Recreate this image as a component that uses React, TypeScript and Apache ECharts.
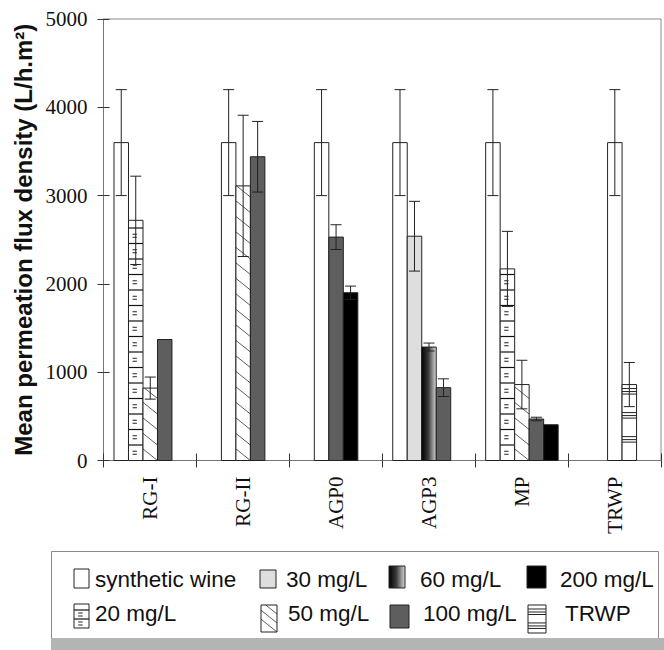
import React, { useEffect, useRef } from 'react';
import * as echarts from 'echarts';

const categories = ['RG-I', 'RG-II', 'AGP0', 'AGP3', 'MP', 'TRWP'];
const seriesNames = ['synthetic wine', '20 mg/L', '30 mg/L', '50 mg/L', '60 mg/L', '100 mg/L', '200 mg/L', 'TRWP'];
const syntheticWine = [3600, 3600, 3600, 3600, 3600, 3600];
const syntheticWineErr = [600, 600, 600, 600, 600, 600];
const mg20 = [2720, null, null, null, 2170, null];
const mg20Err = [500, null, null, null, 425, null];
const mg30 = [null, null, null, 2540, null, null];
const mg30Err = [null, null, null, 395, null, null];
const mg50 = [820, 3110, null, null, 860, null];
const mg50Err = [125, 800, null, null, 275, null];
const mg60 = [null, null, null, 1285, null, null];
const mg60Err = [null, null, null, 45, null, null];
const mg100 = [1370, 3440, 2530, 825, 470, null];
const mg100Err = [0, 400, 140, 100, 20, null];
const mg200 = [null, null, 1900, null, 405, null];
const mg200Err = [null, null, 75, null, 0, null];
const trwp = [null, null, null, null, null, 860];
const trwpErr = [null, null, null, null, null, 250];
const yMin = 0;
const yMax = 5000;
const yStep = 1000;

type Kind = 'white' | 'hbox' | 'dots' | 'hatch' | 'grad' | 'checker' | 'black' | 'trwp';

const allSeries: { name: string; values: (number | null)[]; errs: (number | null)[]; kind: Kind }[] = [
  { name: seriesNames[0], values: syntheticWine, errs: syntheticWineErr, kind: 'white' },
  { name: seriesNames[1], values: mg20, errs: mg20Err, kind: 'hbox' },
  { name: seriesNames[2], values: mg30, errs: mg30Err, kind: 'dots' },
  { name: seriesNames[3], values: mg50, errs: mg50Err, kind: 'hatch' },
  { name: seriesNames[4], values: mg60, errs: mg60Err, kind: 'grad' },
  { name: seriesNames[5], values: mg100, errs: mg100Err, kind: 'checker' },
  { name: seriesNames[6], values: mg200, errs: mg200Err, kind: 'black' },
  { name: seriesNames[7], values: trwp, errs: trwpErr, kind: 'trwp' },
];

function fillFor(kind: Kind): any {
  switch (kind) {
    case 'dots':
      return '#dedede';
    case 'grad':
      return {
        type: 'linear', x: 0, y: 0, x2: 1, y2: 0,
        colorStops: [
          { offset: 0, color: '#000000' },
          { offset: 0.45, color: '#3a3a3a' },
          { offset: 1, color: '#d8d8d8' },
        ],
      };
    case 'checker':
      return '#5e5e5e';
    case 'black':
      return '#000000';
    default:
      return '#ffffff';
  }
}

const ln = (x1: number, y1: number, x2: number, y2: number, stroke = '#111', lw = 1) => ({
  type: 'line',
  shape: { x1, y1, x2, y2 },
  style: { stroke, lineWidth: lw },
  silent: true,
});

function shapeEls(kind: Kind, x: number, top: number, w: number, bottom: number, step: number): any[] {
  const h = bottom - top;
  const els: any[] = [];
  els.push({ type: 'rect', shape: { x, y: top, width: w, height: h }, style: { fill: fillFor(kind), stroke: 'none' }, silent: true });
  if (kind === 'hbox') {
    for (let yy = bottom - step; yy > top + 2; yy -= step) els.push(ln(x, yy, x + w, yy, '#111', 1.2));
    for (let yy = bottom - step / 2; yy > top + 3; yy -= step) {
      els.push(ln(x + w * 0.28, yy - 1.5, x + w * 0.58, yy - 1.5, '#222', 1));
      els.push(ln(x + w * 0.28, yy + 1.5, x + w * 0.58, yy + 1.5, '#222', 1));
    }
  } else if (kind === 'hatch') {
    const dy = 0.8 * w;
    for (let yy = bottom - dy; yy + dy > top; yy -= step) {
      const t0 = Math.max(0, (top - yy) / dy);
      const t1 = Math.min(1, (bottom - yy) / dy);
      if (t1 > t0) els.push(ln(x + w * t0, yy + dy * t0, x + w * t1, yy + dy * t1, '#333', 0.8));
    }
  } else if (kind === 'trwp') {
    for (let g = top + 4; g < bottom - 3; g += step * 1.55) {
      [0, 3, 5.5].forEach((o) => {
        if (g + o < bottom - 2) els.push(ln(x, g + o, x + w, g + o, '#222', 1));
      });
    }
  }
  els.push({ type: 'rect', shape: { x, y: top, width: w, height: h }, style: { fill: 'none', stroke: '#222', lineWidth: 1 }, silent: true });
  return els;
}

function errEls(cx: number, yHi: number, yLo: number, cap: number): any[] {
  return [
    ln(cx, yHi, cx, yLo, '#222', 1),
    ln(cx - cap / 2, yHi, cx + cap / 2, yHi, '#222', 1),
    ln(cx - cap / 2, yLo, cx + cap / 2, yLo, '#222', 1),
  ];
}

const legendItems: { kind: Kind; label: string; ix: number; iy: number; iw: number; ih: number; tx: number; ty: number }[] = [
  { kind: 'white', label: seriesNames[0], ix: 74, iy: 569, iw: 15, ih: 19, tx: 95, ty: 579 },
  { kind: 'dots', label: seriesNames[2], ix: 260, iy: 570, iw: 16, ih: 18, tx: 286, ty: 579 },
  { kind: 'grad', label: seriesNames[4], ix: 389, iy: 566, iw: 16, ih: 22, tx: 420, ty: 579 },
  { kind: 'black', label: seriesNames[6], ix: 527, iy: 566, iw: 19, ih: 22, tx: 560, ty: 579 },
  { kind: 'hbox', label: seriesNames[1], ix: 74, iy: 604, iw: 15, ih: 24, tx: 95, ty: 613 },
  { kind: 'hatch', label: seriesNames[3], ix: 261, iy: 605, iw: 16, ih: 27, tx: 288, ty: 613 },
  { kind: 'checker', label: seriesNames[5], ix: 390, iy: 605, iw: 19, ih: 23, tx: 423, ty: 613 },
  { kind: 'trwp', label: seriesNames[7], ix: 528, iy: 605, iw: 18, ih: 28, tx: 565, ty: 613 },
];

export default function App() {
  const ref = useRef<HTMLDivElement>(null);
  useEffect(() => {
    if (!ref.current) return;
    const chart = echarts.init(ref.current, undefined, { renderer: 'svg' });

    const series = allSeries.map((s) => ({
      type: 'custom',
      name: s.name,
      xAxisIndex: 0,
      yAxisIndex: 0,
      encode: { x: 0, y: 1 },
      data: s.values
        .map((v, ci) => (v == null ? null : [ci, v, s.errs[ci] ?? 0]))
        .filter((d) => d != null),
      renderItem: (params: any, api: any) => {
        const ci = api.value(0);
        const v = api.value(1);
        const e = api.value(2);
        const c = api.coord([ci, v]);
        const c0 = api.coord([ci, 0]);
        const W = api.size([1, 0])[0];
        const present = allSeries.filter((q) => q.values[ci] != null);
        const rank = present.findIndex((q) => q.name === s.name);
        const slot = Math.max(0, 4 - present.length) + rank;
        const bw = W * 0.156;
        const x = c[0] - W / 2 + W * 0.113 + slot * bw;
        const children = shapeEls(s.kind, x, c[1], bw, c0[1], 15.5);
        if (e > 0) {
          const hi = api.coord([ci, v + e])[1];
          const lo = api.coord([ci, v - e])[1];
          children.push(...errEls(x + bw / 2, hi, lo, 11));
        }
        return { type: 'group', children };
      },
    }));

    const graphicEls: any[] = [
      { type: 'rect', shape: { x: 51.5, y: 551.5, width: 607, height: 92 }, style: { fill: '#fff', stroke: '#8a8a8a', lineWidth: 1 }, z: 0 },
      { type: 'rect', shape: { x: 51, y: 638, width: 613, height: 12 }, style: { fill: '#b4b4b4', stroke: 'none' }, z: 1 },
    ];
    legendItems.forEach((it) => {
      graphicEls.push({
        type: 'group',
        z: 2,
        children: shapeEls(it.kind, it.ix, it.iy, it.iw, it.iy + it.ih, 9),
      });
      graphicEls.push({
        type: 'text',
        z: 2,
        x: it.tx,
        y: it.ty,
        style: {
          text: it.label,
          font: '22.5px "Liberation Sans", Arial, sans-serif',
          fill: '#111',
          align: 'left',
          verticalAlign: 'middle',
          textAlign: 'left',
          textVerticalAlign: 'middle',
        },
      });
    });

    chart.setOption({
      animation: false,
      backgroundColor: '#ffffff',
      grid: {
        left: 103.5,
        right: 3,
        top: 19,
        bottom: 189.5,
        show: true,
        borderColor: '#8a8a8a',
        borderWidth: 1,
        backgroundColor: 'transparent',
        containLabel: false,
        outerBoundsMode: 'none',
      },
      xAxis: [
        {
          type: 'category',
          data: categories,
          position: 'bottom',
          axisLine: { show: true, lineStyle: { color: '#777', width: 1 } },
          axisTick: { show: true, inside: false, length: 7, lineStyle: { color: '#333' } },
          axisLabel: {
            show: true,
            rotate: 90,
            margin: 16,
            interval: 0,
            fontFamily: '"Liberation Serif", "Times New Roman", serif',
            fontSize: 21,
            color: '#111',
          },
          splitLine: { show: false },
        },
        {
          type: 'category',
          data: categories,
          position: 'bottom',
          gridIndex: 0,
          axisLine: { show: false },
          axisTick: { show: true, inside: true, length: 7, lineStyle: { color: '#333' } },
          axisLabel: { show: false },
          splitLine: { show: false },
        },
      ],
      yAxis: [
        {
          type: 'value',
          min: yMin,
          max: yMax,
          interval: yStep,
          position: 'left',
          name: 'Mean permeation flux density (L/h.m²)',
          nameLocation: 'middle',
          nameRotate: 90,
          nameGap: 68,
          nameMoveOverlap: false,
          nameTextStyle: {
            fontFamily: '"Liberation Sans", Arial, sans-serif',
            fontWeight: 'bold',
            fontSize: 24,
            color: '#111',
          },
          axisLine: { show: true, lineStyle: { color: '#777', width: 1 } },
          axisTick: { show: true, inside: false, length: 6, lineStyle: { color: '#333' } },
          axisLabel: {
            margin: 16,
            formatter: (v: number) => String(v),
            fontFamily: '"Liberation Serif", "Times New Roman", serif',
            fontSize: 21,
            color: '#111',
          },
          splitLine: { show: false },
        },
        {
          type: 'value',
          min: yMin,
          max: yMax,
          interval: yStep,
          position: 'left',
          gridIndex: 0,
          axisLine: { show: false },
          axisTick: { show: true, inside: true, length: 6, lineStyle: { color: '#333' } },
          axisLabel: { show: false },
          splitLine: { show: false },
        },
      ],
      series,
      graphic: { elements: graphicEls },
    });

    return () => {
      chart.dispose();
    };
  }, []);

  return <div ref={ref} style={{ position: 'fixed', left: 0, top: 0, width: 664, height: 650 }} />;
}
